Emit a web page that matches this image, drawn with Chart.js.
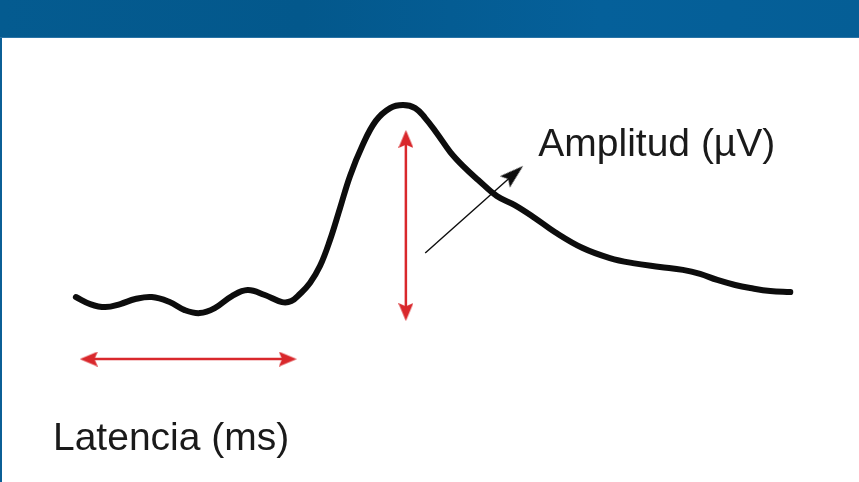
<!DOCTYPE html>
<html>
<head>
<meta charset="utf-8">
<title>Latencia y amplitud</title>
<script src="https://cdn.jsdelivr.net/npm/chart.js@4.4.1/dist/chart.umd.min.js"></script>
<style>
    html, body { margin: 0; padding: 0; background: #ffffff; overflow: hidden; }
    #header {
        position: absolute; left: 0; top: 0; width: 859px; height: 38px;
        background: linear-gradient(90deg, #045b90 0%, #03588c 35%, #05609a 70%, #055e96 100%);
        border-bottom: 1px solid #2a74a6;
        box-sizing: border-box;
    }
    #leftBorder { position: absolute; left: 0; top: 38px; width: 2px; height: 444px; background: #0b5f96; }
    #chart { position: absolute; left: 0; top: 0; }
</style>
</head>
<body>
<div id="header"></div>
<div id="leftBorder"></div>
<canvas id="chart" width="859" height="482"></canvas>
<script>
// 반응 곡선 (시간 ms, 진폭 µV)
const waveTime = [0.6, 2.6, 4.7, 6.8, 8.9, 11.2, 13.7, 15.8, 17.9, 20.0, 22.4, 24.6, 27.0, 29.4, 30.7,
    31.9, 33.3, 34.7, 36.1, 37.5, 38.9, 40.6, 42.5, 44.5, 46.3, 48.0, 49.4, 51.0, 52.9, 54.7, 56.8,
    59.4, 61.9, 64.5, 67.5, 71.4, 75.2, 78.4, 82.2, 85.4, 87.8, 90.2, 92.7, 94.8, 97.6, 100.4];
const waveAmp = [0.21, -0.14, -0.29, -0.14, 0.11, 0.21, -0.04, -0.44, -0.59, -0.34, 0.26, 0.56, 0.31, -0.04, 0.01,
    0.36, 0.91, 1.75, 3.05, 4.64, 6.24, 7.73, 8.98, 9.62, 9.77, 9.62, 9.12, 8.38, 7.43, 6.73, 6.04,
    5.24, 4.79, 4.20, 3.45, 2.65, 2.15, 1.90, 1.71, 1.56, 1.36, 1.06, 0.81, 0.66, 0.51, 0.46];

// 화살표 (시작/끝 좌표, 데이터 단위)
const latencyArrowTime = [2.4, 30.2];
const latencyArrowAmp = [-2.88, -2.88];
const amplitudeArrowTime = [46.7, 46.7];
const amplitudeArrowAmp = [8.08, -0.54];
const pointerArrowTime = [49.4, 61.8];
const pointerArrowAmp = [2.40, 6.34];

// 텍스트 라벨
const labelTexts = ['Amplitud (µV)', 'Latencia (ms)'];
const labelTime = [65.2, -2.6];
const labelAmp = [7.23, -7.41];

const RED = '#d9282c';
const INK = '#0d0d0d';

function toPoints(xs, ys) {
    return xs.map((x, i) => ({ x: x, y: ys[i] }));
}

// 화살촉 이미지 (위쪽을 향함)
function makeHead(w, h, color) {
    const c = document.createElement('canvas');
    c.width = w;
    c.height = h;
    const g = c.getContext('2d');
    g.fillStyle = color;
    g.beginPath();
    g.moveTo(w / 2, 0);
    g.lineTo(w, h);
    g.lineTo(w / 2, h * 0.82);
    g.lineTo(0, h);
    g.closePath();
    g.fill();
    return c;
}

const redHead = makeHead(15, 18, RED);
const blackHead = makeHead(15, 24, INK);

// 라벨 그리기 플러그인
const labelPlugin = {
    id: 'waveLabels',
    afterDatasetsDraw(chart) {
        const ctx = chart.ctx;
        const xs = chart.scales.x;
        const ys = chart.scales.y;
        ctx.save();
        ctx.fillStyle = '#1a1a1a';
        ctx.font = '39px "Liberation Sans", Arial, sans-serif';
        ctx.textAlign = 'left';
        ctx.textBaseline = 'alphabetic';
        labelTexts.forEach((t, i) => {
            ctx.fillText(t, xs.getPixelForValue(labelTime[i]), ys.getPixelForValue(labelAmp[i]));
        });
        ctx.restore();
    }
};

new Chart(document.getElementById('chart'), {
    type: 'line',
    data: {
        datasets: [
            {
                label: 'pointer',
                data: toPoints(pointerArrowTime, pointerArrowAmp),
                borderColor: INK,
                borderWidth: 1.4,
                pointStyle: [false, blackHead],
                pointRadius: [0, 10],
                pointRotation: [0, 48.7]
            },
            {
                label: 'onda',
                data: toPoints(waveTime, waveAmp),
                borderColor: INK,
                borderWidth: 6,
                tension: 0.4,
                borderCapStyle: 'round',
                borderJoinStyle: 'round',
                pointRadius: 0
            },
            {
                label: 'amplitud',
                data: toPoints(amplitudeArrowTime, amplitudeArrowAmp),
                borderColor: RED,
                borderWidth: 2.5,
                pointStyle: redHead,
                pointRadius: 10,
                pointRotation: [0, 180]
            },
            {
                label: 'latencia',
                data: toPoints(latencyArrowTime, latencyArrowAmp),
                borderColor: RED,
                borderWidth: 2.5,
                pointStyle: redHead,
                pointRadius: 10,
                pointRotation: [270, 90]
            }
        ]
    },
    options: {
        responsive: false,
        animation: false,
        layout: { padding: 0, autoPadding: false },
        plugins: {
            legend: { display: false },
            tooltip: { enabled: false }
        },
        scales: {
            x: { type: 'linear', min: -10, max: 110, display: false },
            y: { type: 'linear', min: -9, max: 15, display: false }
        }
    },
    plugins: [labelPlugin]
});
</script>
</body>
</html>
